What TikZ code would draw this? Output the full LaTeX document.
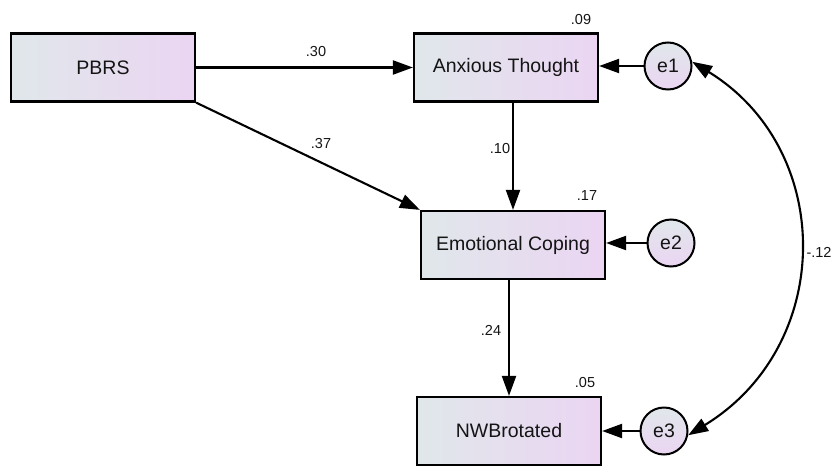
\documentclass[tikz,border=0pt]{standalone}
\usepackage{fontspec}
\setmainfont{Liberation Sans}
\usetikzlibrary{arrows.meta}
\definecolor{boxleft}{HTML}{E0E7EB}
\definecolor{boxright}{HTML}{EBD5F2}
\definecolor{inktext}{HTML}{141414}

\begin{document}
\begin{tikzpicture}[x=1pt, y=-1pt,
        var/.style={draw, line width=2.2pt, left color=boxleft, right color=boxright,
            minimum width=184pt, minimum height=68pt, inner sep=0pt, text=inktext,
            font=\fontsize{19.5}{20}\selectfont},
        err/.style={draw, circle, line width=2pt, top color=boxleft, bottom color=boxright,
            minimum size=47pt, inner sep=0pt, text=inktext, font=\fontsize{19.5}{20}\selectfont},
        coef/.style={inner sep=0pt, text=inktext, font=\fontsize{14.5}{15}\selectfont},
        path/.style={line width=2.1pt, -{Triangle[length=20pt, width=14pt]}},
        cov/.style={line width=2.1pt, {Triangle[length=20pt, width=14pt]}-{Triangle[length=20pt, width=14pt]}}]
    \useasboundingbox (0,0) rectangle (833,466);
    % observed variables
    \node[var] (pbrs) at (103,67.5) {PBRS};
    \node[var] (anx) at (506,67.5) {Anxious Thought};
    \node[var] (emo) at (513,245) {Emotional Coping};
    \node[var] (nwb) at (509,431) {NWBrotated};
    % error terms
    \node[err] (e1) at (668,66) {e1};
    \node[err] (e2) at (671,243) {e2};
    \node[err] (e3) at (664,431) {e3};
    % paths
    \draw[path] (pbrs.east) -- (anx.west);
    \draw[path] (pbrs.south east) -- (emo.north west);
    \draw[path] (anx.south -| emo.north) -- (emo.north);
    \draw[path] (emo.south -| nwb.north) -- (nwb.north);
    \draw[path] (e1.west) -- (e1.west -| anx.east);
    \draw[path] (e2.west) -- (e2.west -| emo.east);
    \draw[path] (e3.west) -- (e3.west -| nwb.east);
    \draw[cov] (e1.10) .. controls +(143,88) and +(147,-90) .. (e3.-10);
    % estimates
    \node[coef] (b30) at (316,52) {.30};
    \node[coef] (b37) at (321,144) {.37};
    \node[coef] (b10) at (500,149) {.10};
    \node[coef] (b24) at (491,330) {.24};
    \node[coef] (r09) at (581,20) {.09};
    \node[coef] (r17) at (587,196) {.17};
    \node[coef] (r05) at (585,383) {.05};
    \node[coef] (c12) at (819,252) {-.12};
\end{tikzpicture}
\end{document}
